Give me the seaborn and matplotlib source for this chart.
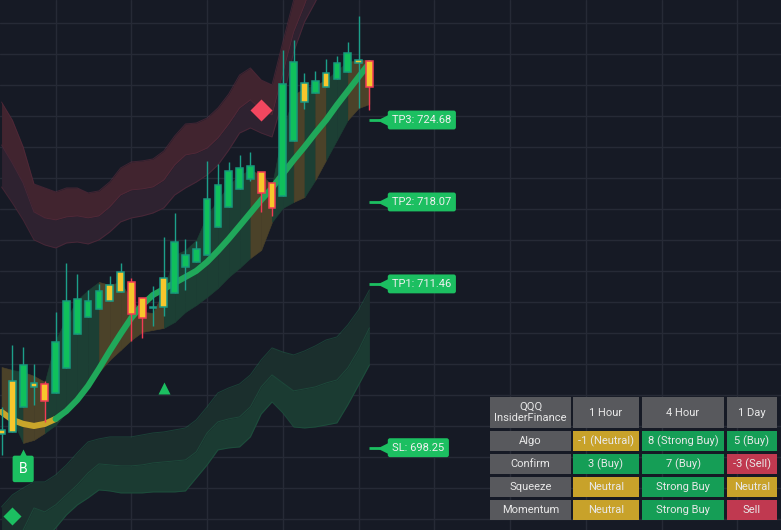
import numpy as np
import matplotlib
matplotlib.use("Agg")
import matplotlib.pyplot as plt
import matplotlib.transforms as mtransforms
from matplotlib.patches import Rectangle
import seaborn as sns

# QQQ hourly candles
opens  = [699.36, 699.52, 701.54, 703.15, 703.39, 702.67, 704.68, 707.42, 708.80, 709.44,
          710.08, 710.81, 711.62, 710.33, 709.56, 709.60, 710.73, 712.83, 713.23, 713.80,
          716.05, 717.67, 719.12, 719.92, 720.49, 719.60, 718.55, 722.99, 726.13, 726.86,
          727.34, 727.99, 728.55, 729.28, 729.44]
highs  = [701.54, 706.54, 706.38, 704.99, 703.63, 709.20, 713.15, 712.26, 710.97, 711.46,
          712.10, 713.15, 711.94, 710.33, 711.30, 715.25, 717.18, 715.09, 714.92, 721.38,
          721.13, 721.30, 721.86, 722.10, 720.49, 719.60, 730.33, 731.13, 728.47, 728.63,
          729.60, 729.84, 730.97, 733.07, 729.44]
lows   = [697.67, 699.52, 701.54, 701.70, 700.33, 702.67, 704.68, 707.42, 708.80, 709.44,
          710.08, 710.81, 706.86, 707.10, 708.07, 708.88, 710.73, 710.97, 713.23, 713.80,
          716.05, 717.67, 719.12, 719.76, 717.26, 716.94, 718.55, 722.99, 725.57, 726.86,
          727.34, 727.99, 728.55, 725.65, 725.49]
closes = [699.68, 703.63, 704.92, 703.47, 702.02, 706.78, 710.08, 710.25, 710.08, 710.89,
          711.38, 712.42, 709.04, 708.72, 709.48, 711.94, 714.84, 713.80, 714.28, 718.31,
          719.44, 720.57, 720.81, 720.97, 718.80, 717.59, 727.58, 729.36, 727.67, 727.83,
          728.47, 729.28, 730.09, 729.52, 727.34]
# g = strong (green), y = neutral (yellow), r = weak (yellow/red), d = doji
kinds = ['y', 'y', 'g', 'y', 'r', 'g', 'g', 'g', 'g', 'g', 'y', 'y', 'r', 'r', 'd', 'y', 'g', 'g',
         'g', 'g', 'g', 'g', 'g', 'g', 'r', 'r', 'g', 'g', 'y', 'g', 'y', 'g', 'g', 'y', 'r']

trend_line = [701.13, 700.49, 700.17, 700.00, 700.17, 700.57, 701.21, 702.10, 703.23, 704.60,
              706.05, 707.42, 708.72, 709.76, 710.57, 711.05, 711.54, 712.02, 712.51, 713.23,
              714.12, 715.09, 716.13, 717.18, 718.23, 719.20, 720.33, 721.46, 722.51, 723.63,
              724.68, 725.89, 727.02, 728.15, 729.28]
cloud_top = [704.76, 704.52, 704.36, 704.04, 703.55, 706.94, 708.71, 710.17, 710.97, 711.62,
             711.38, 711.62, 710.17, 709.20, 709.12, 710.97, 713.80, 714.20, 715.01, 717.02,
             718.23, 719.44, 720.25, 720.65, 720.25, 719.44, 723.88, 726.70, 727.26, 727.51,
             727.91, 728.71, 729.36, 729.52, 729.52]
cloud_bot = [701.29, 700.49, 698.63, 698.88, 699.44, 700.08, 701.13, 702.26, 703.31, 704.36,
             705.33, 706.13, 706.94, 707.58, 707.75, 707.91, 708.39, 709.20, 709.76, 710.41,
             711.13, 712.02, 712.75, 713.55, 714.20, 716.46, 717.59, 718.07, 718.47, 719.84,
             721.46, 723.07, 724.68, 725.65, 725.97]

upper_top = [726.13, 724.68, 722.51, 719.52, 719.20, 718.88, 719.20, 719.20, 718.80, 718.96,
             719.68, 720.81, 721.30, 721.38, 721.54, 722.18, 723.39, 724.36, 724.44, 724.84,
             725.65, 726.78, 728.31, 728.88, 727.91, 727.51, 730.97, 734.36, 736.78, 739.20,
             741.20, 742.40, 744.00, 745.70, 747.30]
upper_mid = [722.67, 721.21, 719.60, 717.26, 716.78, 716.62, 716.86, 716.94, 716.78, 716.94,
             717.67, 718.63, 719.04, 719.12, 719.28, 719.84, 721.05, 721.86, 722.02, 722.42,
             723.23, 724.36, 725.65, 726.30, 725.49, 725.09, 728.47, 731.78, 733.96, 736.38,
             738.39, 739.60, 741.20, 742.80, 744.40]
upper_bot = [719.28, 717.99, 716.62, 715.01, 714.60, 714.36, 714.76, 714.84, 714.68, 715.01,
             715.65, 716.46, 716.78, 716.94, 717.18, 717.59, 718.63, 719.20, 719.68, 720.25,
             721.05, 722.26, 723.63, 724.04, 723.63, 723.31, 726.30, 730.17, 732.59, 734.20,
             735.97, 737.20, 738.80, 740.40, 742.00]
lower_top = [693.47, 694.44, 695.00, 695.49, 695.49, 696.05, 696.86, 697.83, 698.72, 698.96,
             699.12, 699.12, 699.12, 699.28, 699.44, 699.52, 699.68, 699.84, 700.49, 701.54,
             702.67, 703.07, 703.39, 704.12, 705.33, 706.30, 705.97, 705.73, 706.05, 706.46,
             706.94, 707.18, 708.15, 709.36, 710.97]
lower_mid = [690.41, 690.97, 691.61, 693.39, 693.07, 693.63, 694.44, 695.25, 696.21, 696.94,
             696.86, 696.78, 696.78, 696.86, 697.02, 697.10, 697.18, 697.26, 697.91, 699.44,
             700.33, 700.57, 700.73, 701.54, 703.15, 704.12, 703.47, 702.83, 702.99, 703.15,
             703.47, 703.71, 704.68, 706.13, 707.91]
lower_bot = [685.97, 687.18, 688.39, 689.60, 690.81, 691.78, 692.83, 693.63, 694.20, 694.84,
             694.76, 694.60, 694.60, 694.60, 694.68, 694.68, 694.68, 694.76, 695.81, 696.86,
             698.07, 698.23, 698.31, 699.12, 700.97, 701.94, 701.05, 699.92, 699.84, 699.92,
             700.08, 700.25, 701.70, 703.31, 704.92]

tp_names = ['TP3', 'TP2', 'TP1', 'SL']
tp_levels = [724.68, 718.07, 711.46, 698.25]

buy_bar, buy_price = 2, 697.99
tri_bar, tri_price = 15, 703.07
gdia_bar, gdia_price = 1, 692.75
rdia_bar, rdia_price = 24, 725.49

tbl_header = ['QQQ\nInsiderFinance', '1 Hour', '4 Hour', '1 Day']
tbl_rows = ['Algo', 'Confirm', 'Squeeze', 'Momentum']
tbl_text = [['-1 (Neutral)', '8 (Strong Buy)', '5 (Buy)'],
            ['3 (Buy)', '7 (Buy)', '-3 (Sell)'],
            ['Neutral', 'Strong Buy', 'Neutral'],
            ['Neutral', 'Strong Buy', 'Sell']]
tbl_state = [['neutral', 'buy', 'buy'],
             ['buy', 'buy', 'sell'],
             ['neutral', 'buy', 'neutral'],
             ['neutral', 'buy', 'sell']]

BG = '#161a25'
GREEN = '#1cbf61'
sns.set_style("dark")
plt.rcParams['font.family'] = ['Roboto', 'DejaVu Sans']

fig = plt.figure(figsize=(7.81, 5.30), dpi=100, facecolor=BG)
ax = fig.add_axes([0, 0, 1, 1])
ax.set_facecolor(BG)
idx = np.arange(len(opens))

# bands
ax.fill_between(idx, upper_top, upper_mid, color='#41242f', lw=0, zorder=1)
ax.fill_between(idx, upper_mid, upper_bot, color='#2e2230', lw=0, zorder=1)
ax.fill_between(idx, lower_top, lower_mid, color='#1b2f2d', lw=0, zorder=1)
ax.fill_between(idx, lower_mid, lower_bot, color='#1b3b32', lw=0, zorder=1)
for arr in [upper_top, upper_mid, upper_bot]:
    sns.lineplot(x=idx, y=arr, ax=ax, color='#5b2b3d', lw=0.7, alpha=0.6, zorder=1.5)
for arr in [lower_top, lower_mid, lower_bot]:
    sns.lineplot(x=idx, y=arr, ax=ax, color='#1f5a43', lw=0.7, alpha=0.6, zorder=1.5)

# cloud stripes
for i in range(1, len(idx)):
    c = '#1c3f34' if kinds[i] == 'g' else '#4b4229'
    ax.fill_between([i - 1, i], [cloud_top[i - 1], cloud_top[i]],
                    [cloud_bot[i - 1], cloud_bot[i]], facecolor=c, edgecolor=c,
                    lw=0.4, zorder=2)

# trend line, yellow then green
sns.lineplot(x=idx[:6], y=trend_line[:6], ax=ax, color='#c9a52a', lw=4.4, zorder=3,
             solid_capstyle='round')
sns.lineplot(x=idx[5:], y=trend_line[5:], ax=ax, color='#20a85a', lw=4.4, zorder=3,
             solid_capstyle='round')

# candles
face = {'g': '#10c05c', 'y': '#f7c62c', 'r': '#f7c62c', 'd': '#1c9c88'}
edge = {'g': '#179a7c', 'y': '#1b9a86', 'r': '#f23b55', 'd': '#1c9c88'}
wick = {'g': '#1c9f8a', 'y': '#1c9f8a', 'r': '#f23b55', 'd': '#1c9f8a'}
o = np.array(opens); cl = np.array(closes)
for k in ['g', 'y', 'r', 'd']:
    m = np.array([kk == k for kk in kinds])
    ax.vlines(idx[m], np.array(lows)[m], np.array(highs)[m], color=wick[k], lw=1, zorder=4)
    h = np.abs(cl[m] - o[m])
    ax.bar(idx[m], np.maximum(h, 0.08), bottom=np.minimum(o[m], cl[m]), width=0.62,
           color=face[k], edgecolor=edge[k], linewidth=1.1, zorder=5)

# signal markers
ax.plot(rdia_bar, rdia_price, marker='D', ms=11, color='#f2475f', mec='none', zorder=6)
ax.plot(tri_bar, tri_price, marker='^', ms=8, color=GREEN, mec='none', zorder=6)
ax.plot(gdia_bar, gdia_price, marker='D', ms=9, color=GREEN, mec='none', zorder=6)
tr = mtransforms.offset_copy(ax.transData, fig=fig, x=0, y=-6, units='dots')
ax.plot(buy_bar, buy_price, marker='^', ms=11, color=GREEN, mec='none', zorder=6, transform=tr)
ax.annotate('B', xy=(buy_bar, buy_price), xytext=(0, -18), textcoords='offset pixels',
            ha='center', va='center', color='white', fontsize=10, zorder=7,
            bbox=dict(boxstyle='round,pad=0.45,rounding_size=0.15', fc=GREEN, ec='none'))

# target / stop labels
last = idx[-1]
for name, lvl in zip(tp_names, tp_levels):
    ax.plot([last, last + 1], [lvl, lvl], color=GREEN, lw=2, zorder=6, solid_capstyle='butt')
    tr = mtransforms.offset_copy(ax.transData, fig=fig, x=4, y=0, units='dots')
    ax.plot(last + 1, lvl, marker='<', ms=10, color=GREEN, mec='none', zorder=6, transform=tr)
    ax.annotate(f'{name}: {lvl:.2f}', xy=(last + 1, lvl), xytext=(12, 0),
                textcoords='offset pixels', ha='left', va='center', color='#f0f0f0',
                fontsize=8, zorder=7,
                bbox=dict(boxstyle='round,pad=0.4,rounding_size=0.2', fc=GREEN, ec='none'))

ax.set_xlim(-0.14, 72.04)
ax.set_ylim(691.61, 734.36)
ax.set_xticks(np.arange(5, 73, 7))
ax.set_yticks(np.arange(692.5, 734.5, 2.5))
ax.grid(True, color='#262a36', lw=1)
ax.set_axisbelow(True)
ax.tick_params(length=0, labelbottom=False, labelleft=False)
ax.set_xlabel('')
ax.set_ylabel('')
for s in ax.spines.values():
    s.set_visible(False)

# status table (pixel layout)
col_l = [490, 573, 642, 727]
col_r = [571, 639, 724, 777]
row_t = [397, 431, 454, 477, 500]
row_b = [428, 451, 474, 497, 520]
cell_c = {'head': '#58595d', 'neutral': '#c8a22a', 'buy': '#159e56', 'sell': '#c03950'}
W, H = 781.0, 530.0

def cell(r, c, text, color):
    x0, x1 = col_l[c], col_r[c]
    y0, y1 = row_t[r], row_b[r]
    fig.patches.append(Rectangle((x0 / W, 1 - y1 / H), (x1 - x0) / W, (y1 - y0) / H,
                                 transform=fig.transFigure, fc=color, ec='none', zorder=10))
    fig.text((x0 + x1) / 2 / W, 1 - (y0 + y1) / 2 / H, text, ha='center', va='center',
             color='#e8e8e8', fontsize=8, linespacing=1.2, zorder=11)

for c, t in enumerate(tbl_header):
    cell(0, c, t, cell_c['head'])
for r, name in enumerate(tbl_rows):
    cell(r + 1, 0, name, cell_c['head'])
    for c in range(3):
        cell(r + 1, c + 1, tbl_text[r][c], cell_c[tbl_state[r][c]])

fig.savefig('out.png', dpi=100, facecolor=BG)
